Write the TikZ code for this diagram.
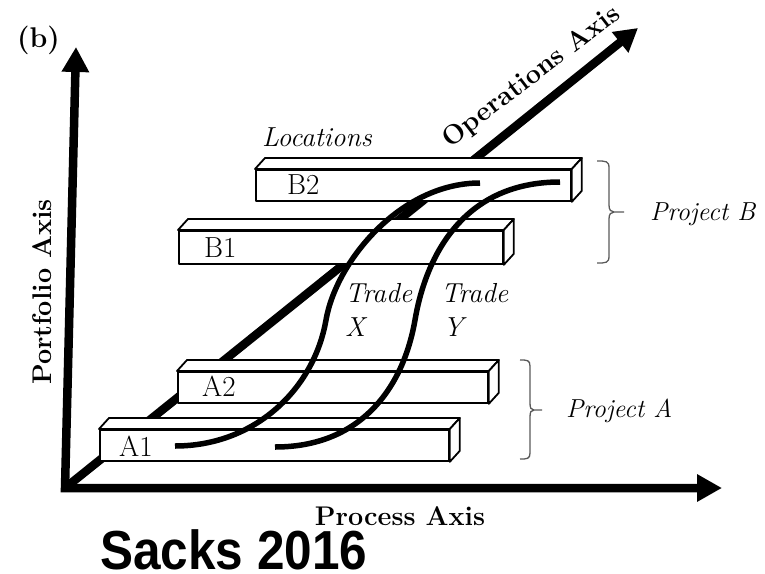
\documentclass[tikz,border=0pt]{standalone}
\usepackage{fontspec}
\newfontfamily\sacksfont{Liberation Sans}
\usetikzlibrary{arrows.meta,calc}
\tikzset{
  axis/.style={line width=8.5pt, line join=miter, draw=black},
  bar/.style={draw=black, line width=1.8pt, fill=white, inner sep=0pt, rectangle, line join=round},
  face/.style={draw=black, line width=1.8pt, fill=white, line join=round},
  trade/.style={line width=5.5pt, draw=black},
  brace/.style={line width=1.3pt, draw=black!65},
  axlabel/.style={font=\bfseries\fontsize{27}{30}\selectfont, inner sep=0pt},
  itlabel/.style={font=\itshape\fontsize{27.5}{30}\selectfont, inner sep=0pt, anchor=base west},
  projlabel/.style={font=\itshape\fontsize{26}{30}\selectfont, inner sep=0pt, anchor=base west},
  barlabel/.style={font=\fontsize{29}{31}\selectfont, inner sep=0pt, anchor=base west}
}
\newcommand{\barfaces}[1]{%
  \filldraw[face] (#1.north west) -- ($(#1.north west)+(10,-11)$) -- ($(#1.north east)+(10,-11)$) -- (#1.north east) -- cycle;
  \filldraw[face] (#1.north east) -- ($(#1.north east)+(10,-11)$) -- ($(#1.south east)+(10,-11)$) -- (#1.south east) -- cycle;
}
\begin{document}
\begin{tikzpicture}[x=1pt,y=-1pt]
\useasboundingbox (0,0) rectangle (765,573);
% axes
\coordinate (O) at (65,488);
\coordinate (py) at (76,47);
\coordinate (px) at (722,488);
\coordinate (pz) at (638,28);
\draw[axis, {Triangle[length=25pt,width=26pt]}-{Triangle[length=25pt,width=26pt]}] (py) -- (O) -- (px);
\draw[axis, -{Triangle[length=23pt,width=25pt]}] (O) -- (pz);
% bars
\node[bar, minimum width=315pt, minimum height=31pt, anchor=north west] (B2) at (255,169) {};
\barfaces{B2}
\node[bar, minimum width=324pt, minimum height=33pt, anchor=north west] (B1) at (178,230) {};
\barfaces{B1}
\node[bar, minimum width=310pt, minimum height=31pt, anchor=north west] (A2) at (177,371) {};
\barfaces{A2}
\node[bar, minimum width=349pt, minimum height=31pt, anchor=north west] (A1) at (99,429) {};
\barfaces{A1}
% trade curves
\coordinate (xs) at (175,446);
\coordinate (xm) at (326,320);
\coordinate (xe) at (480,183);
\coordinate (ys) at (275,447);
\coordinate (ym) at (415,320);
\coordinate (ye) at (560,182);
\draw[trade] (xs) .. controls (255,446) and (314,389) .. (xm) .. controls (336,262) and (400,183) .. (xe);
\draw[trade] (ys) .. controls (360,447) and (403,389) .. (ym) .. controls (425,261) and (460,182) .. (ye);
% braces
\draw[brace] (597,161) .. controls (606,161) and (609,161) .. (609,168) -- (609,205) .. controls (609,210) and (611,212) .. (614,212) -- (624,212);
\draw[brace] (614,212) .. controls (611,212) and (609,214) .. (609,219) -- (609,256) .. controls (609,263) and (606,263) .. (597,263);
\draw[brace] (520,360) .. controls (527,360) and (530,360) .. (530,366) -- (530,403) .. controls (530,408) and (531,410) .. (534,410) -- (542,410);
\draw[brace] (534,410) .. controls (531,410) and (530,412) .. (530,417) -- (530,453) .. controls (530,459) and (527,459) .. (520,459);
% labels
\node[axlabel, anchor=base west, font=\bfseries\fontsize{28.5}{30}\selectfont] (lb) at (17,47) {(b)};
\node[axlabel, anchor=base, rotate=90] (lport) at (51,292) {Portfolio Axis};
\node[axlabel, anchor=center, rotate=37.5] (lops) at (532,77) {Operations Axis};
\node[axlabel, anchor=base] (lproc) at (400,525) {Process Axis};
\node[inner sep=0pt, anchor=base west, text depth=0pt, font=\sacksfont\bfseries\fontsize{55}{58}\selectfont] (sacks) at (100,569) {\scalebox{0.9}[1]{Sacks 2016}};
\node[itlabel] (loc) at (262,146) {Locations};
\node[barlabel] (tB2) at (287,194) {B2};
\node[barlabel] (tB1) at (204,257) {B1};
\node[barlabel] (tA2) at (202,396) {A2};
\node[barlabel] (tA1) at (119,456) {A1};
\node[itlabel] (tx1) at (345,302) {Trade};
\node[itlabel] (tx2) at (345,336) {X};
\node[itlabel] (ty1) at (441,302) {Trade};
\node[itlabel] (ty2) at (443,336) {Y};
\node[projlabel] (pB) at (650,220) {Project B};
\node[projlabel] (pA) at (566,417) {Project A};
\end{tikzpicture}
\end{document}
